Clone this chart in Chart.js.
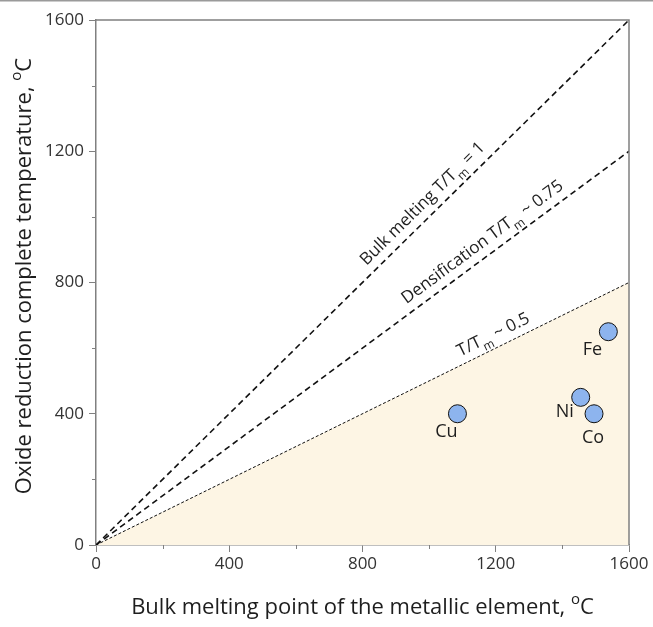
<!DOCTYPE html>
<html>
<head>
<meta charset="utf-8">
<script src="https://cdn.jsdelivr.net/npm/chart.js@4"></script>
<style>
  html, body { margin: 0; padding: 0; background: #fff; }
  #wrap { width: 653px; height: 627px; }
</style>
</head>
<body>
<div id="wrap"><canvas id="chart" width="653" height="627"></canvas></div>
<script>
// data
const metals = ['Cu', 'Ni', 'Co', 'Fe'];
const meltingPoint = [1085, 1455, 1495, 1538];
const reductionTemp = [400, 450, 400, 650];
const ratios = [1, 0.75, 0.5];
const axisTicks = [0, 400, 800, 1200, 1600];
const minorTicks = [200, 600, 1000, 1400];

const FONT = '"Open Sans", "DejaVu Sans", sans-serif';
const AXIS = '#808080';
const INK = '#1e1e1e';

// where each metal name sits relative to its marker (px)
const nameOffset = { Cu: [-11, 18], Ni: [-16, 15], Co: [-1, 24], Fe: [-16, 18] };

// text along the ratio lines: segments, data x of the text centre, lift above the line (px)
const lineLabels = [
  { at: 1010, lift: 9, segs: [{ t: 'Bulk melting ' }, { t: 'T/T' }, { t: 'm', sub: true }, { t: ' = 1' }] },
  { at: 1185, lift: 9, segs: [{ t: 'Densification ' }, { t: 'T/T' }, { t: 'm', sub: true }, { t: ' ~ 0.75' }] },
  { at: 1210, lift: 8, segs: [{ t: 'T/T' }, { t: 'm', sub: true }, { t: ' ~ 0.5' }] }
];

function segFont(s, size) {
  const sz = (s.sub || s.sup) ? Math.round(size * 0.68) : size;
  return (s.it ? 'italic ' : '') + sz + 'px ' + FONT;
}

// draws rich text centred on the current origin, baseline at y=0
function drawRich(ctx, segs, size) {
  let total = 0;
  const widths = segs.map(s => { ctx.font = segFont(s, size); const w = ctx.measureText(s.t).width; total += w; return w; });
  let x = -total / 2;
  ctx.textAlign = 'left';
  ctx.textBaseline = 'alphabetic';
  segs.forEach((s, i) => {
    ctx.font = segFont(s, size);
    let dy = 0;
    if (s.sub) dy = size * 0.36;
    if (s.sup) dy = -size * 0.45;
    ctx.fillText(s.t, x, dy);
    x += widths[i];
  });
}

const extras = {
  id: 'extras',
  afterDraw(chart) {
    const ctx = chart.ctx;
    const a = chart.chartArea;
    const xs = chart.scales.x, ys = chart.scales.y;
    ctx.save();

    // page rule at the very top
    ctx.fillStyle = '#9a9a9a';
    ctx.fillRect(0, 0, chart.width, 1.5);

    // frame on top and right
    ctx.strokeStyle = AXIS;
    ctx.lineWidth = 1.5;
    ctx.beginPath();
    ctx.moveTo(a.left, a.top);
    ctx.lineTo(a.right, a.top);
    ctx.lineTo(a.right, a.bottom);
    ctx.stroke();

    // minor ticks
    ctx.lineWidth = 1;
    ctx.beginPath();
    minorTicks.forEach(v => {
      const px = Math.round(xs.getPixelForValue(v)) + 0.5;
      ctx.moveTo(px, a.bottom); ctx.lineTo(px, a.bottom + 4);
      const py = Math.round(ys.getPixelForValue(v)) + 0.5;
      ctx.moveTo(a.left, py); ctx.lineTo(a.left - 4, py);
    });
    ctx.stroke();

    // labels along the ratio lines
    ctx.fillStyle = INK;
    ratios.forEach((r, i) => {
      const L = lineLabels[i];
      const x0 = xs.getPixelForValue(0), y0 = ys.getPixelForValue(0);
      const x1 = xs.getPixelForValue(1600), y1 = ys.getPixelForValue(1600 * r);
      const ang = Math.atan2(y1 - y0, x1 - x0);
      const px = xs.getPixelForValue(L.at), py = ys.getPixelForValue(L.at * r);
      ctx.save();
      ctx.translate(px, py);
      ctx.rotate(ang);
      ctx.translate(0, -L.lift);
      drawRich(ctx, L.segs, 17);
      ctx.restore();
    });

    // metal names
    const meta = chart.getDatasetMeta(0);
    ctx.font = '18px ' + FONT;
    ctx.textAlign = 'center';
    ctx.textBaseline = 'middle';
    meta.data.forEach((pt, i) => {
      const off = nameOffset[metals[i]];
      ctx.fillText(metals[i], pt.x + off[0], pt.y + off[1]);
    });

    // axis titles
    ctx.save();
    ctx.translate((a.left + a.right) / 2, 614);
    drawRich(ctx, [{ t: 'Bulk melting point of the metallic element, ' }, { t: 'o', sup: true }, { t: 'C' }], 22);
    ctx.restore();
    ctx.save();
    ctx.translate(31, 276);
    ctx.rotate(-Math.PI / 2);
    drawRich(ctx, [{ t: 'Oxide reduction complete temperature, ' }, { t: 'o', sup: true }, { t: 'C' }], 22);
    ctx.restore();

    ctx.restore();
  }
};

const lineStyles = [
  { dash: [6, 4], width: 1.6 },
  { dash: [6, 4], width: 1.6 },
  { dash: [3, 2], width: 1 }
];

const datasets = [{
  type: 'scatter',
  data: meltingPoint.map((x, i) => ({ x: x, y: reductionTemp[i] })),
  backgroundColor: '#8db4ee',
  borderColor: '#111',
  borderWidth: 1,
  pointRadius: 9,
  pointHoverRadius: 9
}];
ratios.forEach((r, i) => {
  datasets.push({
    type: 'line',
    data: [{ x: 0, y: 0 }, { x: 1600, y: 1600 * r }],
    borderColor: '#111',
    borderWidth: lineStyles[i].width,
    borderDash: lineStyles[i].dash,
    pointRadius: 0,
    fill: r === 0.5 ? 'origin' : false,
    backgroundColor: '#fdf5e4'
  });
});

function fixTicks(scale) { scale.ticks = axisTicks.map(v => ({ value: v })); }
const tickOpts = (pad) => ({
  padding: pad, color: '#333',
  font: { family: FONT, size: 17 },
  callback: v => String(v)
});

new Chart(document.getElementById('chart'), {
  data: { datasets: datasets },
  options: {
    responsive: false,
    animation: false,
    layout: { padding: { top: 20, right: 24, left: 0, bottom: 0 } },
    plugins: { legend: { display: false }, tooltip: { enabled: false } },
    scales: {
      x: {
        type: 'linear', min: 0, max: 1600,
        afterBuildTicks: fixTicks,
        afterFit: s => { s.height = 82; },
        grid: { drawOnChartArea: false, tickLength: 7, tickColor: AXIS, tickWidth: 1 },
        border: { color: AXIS, width: 1.5 },
        ticks: tickOpts(2)
      },
      y: {
        type: 'linear', min: 0, max: 1600,
        afterBuildTicks: fixTicks,
        afterFit: s => { s.width = 96; },
        grid: { drawOnChartArea: false, tickLength: 7, tickColor: AXIS, tickWidth: 1 },
        border: { color: AXIS, width: 1.5 },
        ticks: tickOpts(5)
      }
    }
  },
  plugins: [extras]
});
</script>
</body>
</html>
